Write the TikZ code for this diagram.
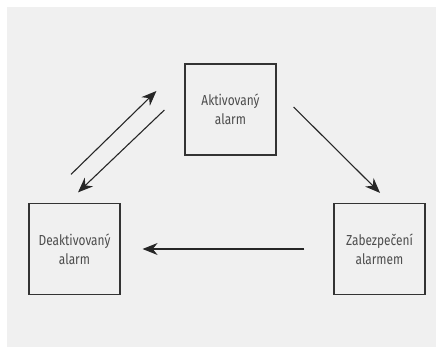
\documentclass[tikz,border=0pt]{standalone}
\usepackage{fontspec}
\setmainfont{Fira Sans}[FakeStretch=0.82]
\usetikzlibrary{arrows.meta,calc}

\begin{document}
\begin{tikzpicture}[
    x=1pt, y=1pt,
    statebox/.style={draw=black!80, line width=1.2pt, minimum size=91pt, inner sep=0pt, align=center, text=black!70, font=\fontsize{14.5}{19}\selectfont},
    arrow/.style={-{Stealth[length=15pt, width=12pt]}, line width=1.1pt, draw=black!85}
]
\useasboundingbox (0,0) rectangle (436,347);
\fill[black!6] (7,0) rectangle (436,340);

\node[statebox] (akt) at (230.5, 237.5) {Aktivovaný\\alarm};
\node[statebox] (deakt) at (74.5, 98) {Deaktivovaný\\alarm};
\node[statebox] (zab) at (379.5, 98) {Zabezpečení\\alarmem};

% free ends of the connectors
\coordinate (d1) at ($(deakt.north)+(-3.5,28.5)$);
\coordinate (a1) at ($(akt.west)+(-28,18.5)$);
\coordinate (a2) at ($(akt.west)+(-20,-0.5)$);
\coordinate (d2) at ($(deakt.north)+(3.5,10.5)$);
\coordinate (a3) at ($(akt.east)+(17,2.5)$);
\coordinate (z3) at ($(zab.north)+(0.5,10)$);

\draw[arrow] (d1) -- (a1);
\draw[arrow] (a2) -- (d2);
\draw[arrow] (a3) -- (z3);
\draw[arrow, shorten <=29pt, shorten >=22pt] (zab.west) -- (deakt.east);

\end{tikzpicture}
\end{document}
